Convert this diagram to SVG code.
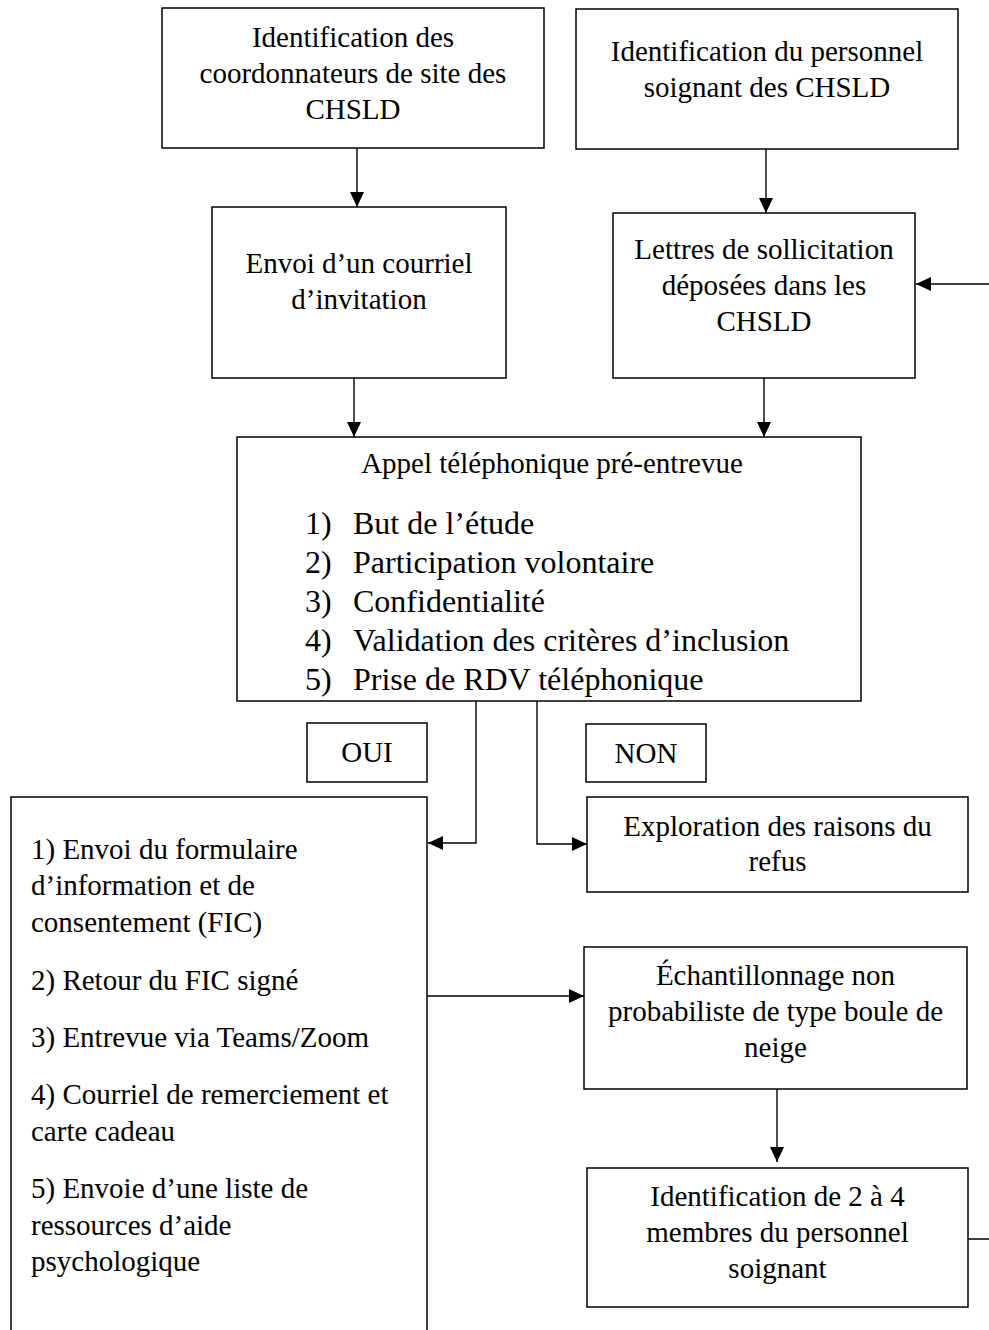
<svg xmlns="http://www.w3.org/2000/svg" width="989" height="1330" viewBox="0 0 989 1330">
<defs>
<style>
.box{fill:#fff;stroke:#000;stroke-width:1.5}
.t{font-family:"Liberation Serif","Times New Roman",serif;font-size:29px;fill:#000}
.c{text-anchor:middle}
.l{font-size:32px}
.con{fill:none;stroke:#000;stroke-width:1.4}
</style>
<marker id="ah" markerUnits="userSpaceOnUse" markerWidth="16" markerHeight="14" refX="15" refY="7" orient="auto">
<path d="M0,0 L15,7 L0,14 Z" fill="#000"/>
</marker>
</defs>
<rect width="989" height="1330" fill="#fff"/>

<g id="n-coord">
<rect class="box" x="162" y="8" width="382" height="140"/>
<text class="t c" x="353" y="47">Identification des</text>
<text class="t c" x="353" y="83">coordonnateurs de site des</text>
<text class="t c" x="353" y="119">CHSLD</text>
</g>

<g id="n-perso">
<rect class="box" x="576" y="9" width="382" height="140"/>
<text class="t c" x="767" y="61">Identification du personnel</text>
<text class="t c" x="767" y="97">soignant des CHSLD</text>
</g>

<g id="n-courriel">
<rect class="box" x="212" y="207" width="294" height="171"/>
<text class="t c" x="359" y="273">Envoi d’un courriel</text>
<text class="t c" x="359" y="309">d’invitation</text>
</g>

<g id="n-lettres">
<rect class="box" x="613" y="213" width="302" height="165"/>
<text class="t c" x="764" y="259">Lettres de sollicitation</text>
<text class="t c" x="764" y="295">déposées dans les</text>
<text class="t c" x="764" y="331">CHSLD</text>
</g>

<g id="n-appel">
<rect class="box" x="237" y="437" width="624" height="264"/>
<text class="t c" x="552" y="473">Appel téléphonique pré-entrevue</text>
<text class="t l" x="305" y="534">1)</text><text class="t l" x="353" y="534">But de l’étude</text>
<text class="t l" x="305" y="573">2)</text><text class="t l" x="353" y="573">Participation volontaire</text>
<text class="t l" x="305" y="612">3)</text><text class="t l" x="353" y="612">Confidentialité</text>
<text class="t l" x="305" y="651">4)</text><text class="t l" x="353" y="651">Validation des critères d’inclusion</text>
<text class="t l" x="305" y="690">5)</text><text class="t l" x="353" y="690">Prise de RDV téléphonique</text>
</g>

<g id="n-oui">
<rect class="box" x="307" y="723" width="120" height="59"/>
<text class="t c" x="367" y="762">OUI</text>
</g>

<g id="n-non">
<rect class="box" x="586" y="724" width="120" height="58"/>
<text class="t c" x="646" y="763">NON</text>
</g>

<g id="n-etapes">
<rect class="box" x="11" y="797" width="416" height="545"/>
<text class="t" x="31" y="859">1) Envoi du formulaire</text>
<text class="t" x="31" y="895">d’information et de</text>
<text class="t" x="31" y="932">consentement (FIC)</text>
<text class="t" x="31" y="990">2) Retour du FIC signé</text>
<text class="t" x="31" y="1047">3) Entrevue via Teams/Zoom</text>
<text class="t" x="31" y="1104">4) Courriel de remerciement et</text>
<text class="t" x="31" y="1141">carte cadeau</text>
<text class="t" x="31" y="1198">5) Envoie d’une liste de</text>
<text class="t" x="31" y="1235">ressources d’aide</text>
<text class="t" x="31" y="1271">psychologique</text>
</g>

<g id="n-explo">
<rect class="box" x="587" y="797" width="381" height="95"/>
<text class="t c" x="777.5" y="836">Exploration des raisons du</text>
<text class="t c" x="777.5" y="871">refus</text>
</g>

<g id="n-echant">
<rect class="box" x="584" y="947" width="383" height="142"/>
<text class="t c" x="775.5" y="985">Échantillonnage non</text>
<text class="t c" x="775.5" y="1021">probabiliste de type boule de</text>
<text class="t c" x="775.5" y="1057">neige</text>
</g>

<g id="n-ident">
<rect class="box" x="587" y="1168" width="381" height="139"/>
<text class="t c" x="777.5" y="1206">Identification de 2 à 4</text>
<text class="t c" x="777.5" y="1242">membres du personnel</text>
<text class="t c" x="777.5" y="1278">soignant</text>
</g>

<g id="connectors">
<path class="con" d="M357,148 V207" marker-end="url(#ah)"/>
<path class="con" d="M354,378 V437" marker-end="url(#ah)"/>
<path class="con" d="M766,149 V213" marker-end="url(#ah)"/>
<path class="con" d="M764,378 V437" marker-end="url(#ah)"/>
<path class="con" d="M476,701 V843 H428" marker-end="url(#ah)"/>
<path class="con" d="M537,701 V844 H587" marker-end="url(#ah)"/>
<path class="con" d="M427,996 H584" marker-end="url(#ah)"/>
<path class="con" d="M777,1089 V1162" marker-end="url(#ah)"/>
<path class="con" d="M968,1239 H996 V284 H916" marker-end="url(#ah)"/>
</g>
</svg>
